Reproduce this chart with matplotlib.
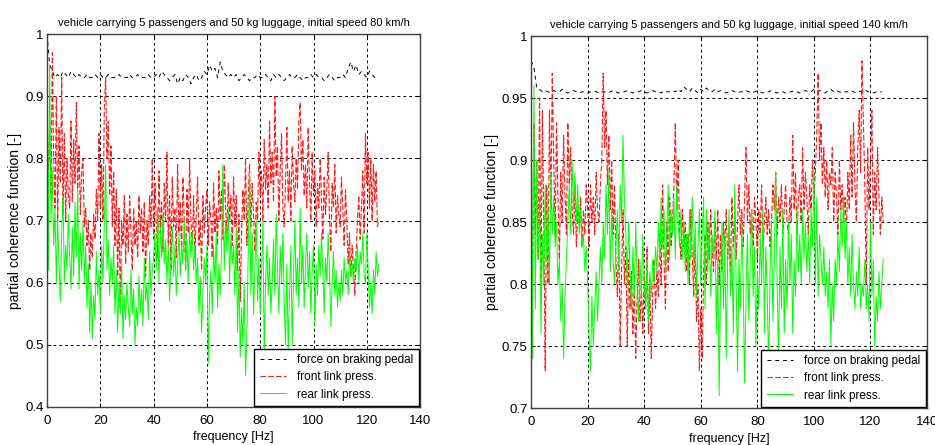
import numpy as np
import matplotlib
matplotlib.use("Agg")
import matplotlib.pyplot as plt
import matplotlib.ticker as mticker

plt.rcParams["font.family"] = ["Liberation Sans", "DejaVu Sans"]

# ------------------------------------------------------------
# 1. DADOS

# frequencias: 0.5 Hz para as pressoes, 1 Hz para a forca no pedal
freq_fine = np.arange(250) * 0.5
freq_coarse = np.arange(125) * 1.0

titles = [
    "vehicle carrying 5 passengers and 50 kg luggage, initial speed 80 km/h",
    "vehicle carrying 5 passengers and 50 kg luggage, initial speed 140 km/h",
]
legend_labels = ["force on braking pedal", "front link press.", "rear link press."]

# --- 80 km/h ---
pedal_80 = [
    1.00, 0.95, 0.94, 0.93, 0.935, 0.93, 0.94, 0.935, 0.93, 0.94,
    0.935, 0.93, 0.935, 0.93, 0.93, 0.935, 0.93, 0.93, 0.935, 0.93,
    0.935, 0.93, 0.93, 0.935, 0.93, 0.93, 0.93, 0.935, 0.93, 0.93,
    0.93, 0.935, 0.93, 0.93, 0.935, 0.93, 0.93, 0.93, 0.935, 0.93,
    0.93, 0.935, 0.93, 0.94, 0.935, 0.93, 0.925, 0.93, 0.935, 0.92,
    0.93, 0.925, 0.935, 0.93, 0.92, 0.93, 0.935, 0.925, 0.93, 0.94,
    0.935, 0.95, 0.94, 0.945, 0.93, 0.955, 0.94, 0.935, 0.93, 0.935,
    0.93, 0.935, 0.925, 0.93, 0.935, 0.93, 0.925, 0.93, 0.93, 0.935,
    0.93, 0.93, 0.935, 0.93, 0.925, 0.935, 0.93, 0.935, 0.93, 0.925,
    0.93, 0.935, 0.93, 0.93, 0.935, 0.93, 0.925, 0.93, 0.93, 0.935,
    0.93, 0.935, 0.93, 0.93, 0.925, 0.93, 0.935, 0.93, 0.925, 0.93,
    0.93, 0.935, 0.93, 0.945, 0.955, 0.94, 0.95, 0.935, 0.94, 0.935,
    0.93, 0.94, 0.935, 0.93, 0.935,
]

front_80 = [
    0.83, 0.78, 0.86, 0.74, 0.97, 0.80, 0.72, 0.90, 0.70, 0.85,
    0.76, 0.93, 0.71, 0.84, 0.70, 0.80, 0.74, 0.72, 0.86, 0.73,
    0.83, 0.76, 0.89, 0.75, 0.82, 0.71, 0.78, 0.80, 0.69, 0.72,
    0.66, 0.70, 0.62, 0.68, 0.64, 0.71, 0.67, 0.75, 0.70, 0.84,
    0.72, 0.79, 0.70, 0.88, 0.93, 0.80, 0.86, 0.74, 0.82, 0.69,
    0.78, 0.66, 0.75, 0.61, 0.72, 0.56, 0.70, 0.66, 0.74, 0.63,
    0.71, 0.65, 0.74, 0.68, 0.62, 0.72, 0.66, 0.70, 0.64, 0.74,
    0.68, 0.72, 0.65, 0.73, 0.61, 0.70, 0.66, 0.74, 0.69, 0.80,
    0.67, 0.76, 0.70, 0.64, 0.78, 0.68, 0.73, 0.65, 0.76, 0.70,
    0.81, 0.66, 0.74, 0.62, 0.77, 0.69, 0.72, 0.64, 0.79, 0.68,
    0.73, 0.65, 0.77, 0.70, 0.62, 0.75, 0.68, 0.80, 0.70, 0.66,
    0.74, 0.64, 0.71, 0.77, 0.66, 0.70, 0.62, 0.74, 0.68, 0.72,
    0.75, 0.66, 0.73, 0.70, 0.64, 0.76, 0.68, 0.72, 0.66, 0.78,
    0.70, 0.75, 0.67, 0.79, 0.72, 0.68, 0.76, 0.70, 0.74, 0.66,
    0.77, 0.69, 0.74, 0.62, 0.71, 0.57, 0.68, 0.75, 0.70, 0.80,
    0.66, 0.74, 0.79, 0.69, 0.76, 0.71, 0.65, 0.73, 0.70, 0.81,
    0.74, 0.78, 0.70, 0.83, 0.75, 0.79, 0.72, 0.86, 0.76, 0.81,
    0.73, 0.90, 0.77, 0.82, 0.70, 0.78, 0.84, 0.72, 0.69, 0.76,
    0.85, 0.73, 0.78, 0.70, 0.82, 0.76, 0.73, 0.80, 0.75, 0.86,
    0.89, 0.78, 0.83, 0.74, 0.79, 0.72, 0.85, 0.76, 0.70, 0.81,
    0.74, 0.78, 0.69, 0.76, 0.72, 0.80, 0.73, 0.67, 0.77, 0.71,
    0.75, 0.81, 0.70, 0.65, 0.76, 0.72, 0.79, 0.68, 0.74, 0.71,
    0.69, 0.77, 0.72, 0.66, 0.75, 0.70, 0.63, 0.68, 0.61, 0.66,
    0.62, 0.58, 0.65, 0.70, 0.74, 0.67, 0.72, 0.78, 0.68, 0.84,
    0.76, 0.81, 0.72, 0.80, 0.70, 0.79, 0.73, 0.78, 0.69, 0.70,
]

rear_80 = [
    1.00, 0.62, 0.95, 0.70, 0.78, 0.66, 0.72, 0.60, 0.70, 0.63,
    0.57, 0.68, 0.74, 0.60, 0.66, 0.62, 0.71, 0.64, 0.59, 0.69,
    0.61, 0.73, 0.64, 0.75, 0.59, 0.68, 0.62, 0.70, 0.60, 0.66,
    0.56, 0.63, 0.52, 0.60, 0.51, 0.58, 0.54, 0.65, 0.58, 0.62,
    0.55, 0.66, 0.60, 0.70, 0.79, 0.62, 0.67, 0.58, 0.64, 0.60,
    0.66, 0.55, 0.62, 0.52, 0.60, 0.55, 0.63, 0.51, 0.58, 0.54,
    0.60, 0.56, 0.53, 0.62, 0.55, 0.59, 0.50, 0.56, 0.53, 0.61,
    0.55, 0.59, 0.53, 0.64, 0.57, 0.60, 0.54, 0.65, 0.58, 0.62,
    0.64, 0.68, 0.62, 0.72, 0.60, 0.69, 0.64, 0.71, 0.63, 0.67,
    0.60, 0.66, 0.57, 0.64, 0.69, 0.61, 0.66, 0.58, 0.63, 0.68,
    0.61, 0.66, 0.63, 0.70, 0.62, 0.67, 0.60, 0.69, 0.64, 0.68,
    0.62, 0.66, 0.60, 0.64, 0.55, 0.61, 0.52, 0.58, 0.64, 0.60,
    0.66, 0.47, 0.58, 0.62, 0.55, 0.66, 0.60, 0.68, 0.56, 0.63,
    0.58, 0.66, 0.79, 0.62, 0.70, 0.65, 0.72, 0.60, 0.68, 0.63,
    0.66, 0.58, 0.69, 0.52, 0.62, 0.48, 0.56, 0.50, 0.60, 0.45,
    0.52, 0.65, 0.78, 0.58, 0.68, 0.55, 0.62, 0.70, 0.57, 0.64,
    0.55, 0.62, 0.70, 0.48, 0.60, 0.66, 0.58, 0.64, 0.55, 0.60,
    0.67, 0.58, 0.71, 0.62, 0.55, 0.66, 0.60, 0.68, 0.57, 0.50,
    0.63, 0.49, 0.58, 0.66, 0.50, 0.61, 0.70, 0.58, 0.64, 0.56,
    0.72, 0.60, 0.66, 0.56, 0.63, 0.68, 0.59, 0.65, 0.55, 0.62,
    0.66, 0.53, 0.63, 0.58, 0.66, 0.61, 0.68, 0.62, 0.55, 0.64,
    0.60, 0.68, 0.62, 0.53, 0.60, 0.65, 0.58, 0.62, 0.56, 0.60,
    0.57, 0.62, 0.58, 0.64, 0.60, 0.62, 0.58, 0.65, 0.61, 0.63,
    0.60, 0.64, 0.62, 0.66, 0.60, 0.65, 0.63, 0.68, 0.61, 0.60,
    0.68, 0.62, 0.56, 0.60, 0.55, 0.62, 0.58, 0.65, 0.61, 0.63,
]

# --- 140 km/h ---
pedal_140 = [
    0.98, 0.975, 0.958, 0.957, 0.955, 0.956, 0.955, 0.954, 0.956, 0.955,
    0.955, 0.957, 0.955, 0.954, 0.955, 0.956, 0.955, 0.954, 0.955, 0.955,
    0.954, 0.955, 0.956, 0.955, 0.954, 0.955, 0.955, 0.954, 0.955, 0.956,
    0.955, 0.954, 0.955, 0.955, 0.956, 0.955, 0.954, 0.955, 0.955, 0.956,
    0.955, 0.954, 0.955, 0.956, 0.955, 0.955, 0.954, 0.956, 0.955, 0.955,
    0.956, 0.955, 0.957, 0.955, 0.959, 0.957, 0.955, 0.958, 0.956, 0.954,
    0.957, 0.955, 0.958, 0.956, 0.955, 0.957, 0.955, 0.956, 0.955, 0.954,
    0.955, 0.956, 0.955, 0.954, 0.955, 0.955, 0.956, 0.955, 0.954, 0.955,
    0.956, 0.955, 0.954, 0.955, 0.955, 0.956, 0.955, 0.954, 0.955, 0.955,
    0.954, 0.955, 0.955, 0.956, 0.955, 0.954, 0.955, 0.956, 0.955, 0.955,
    0.957, 0.955, 0.956, 0.955, 0.954, 0.956, 0.957, 0.955, 0.956, 0.955,
    0.954, 0.955, 0.955, 0.956, 0.955, 0.954, 0.955, 0.956, 0.957, 0.955,
    0.955, 0.954, 0.955, 0.955, 0.955,
]

front_140 = [
    0.80, 0.79, 0.93, 0.84, 0.90, 0.82, 0.95, 0.80, 0.94, 0.85,
    0.73, 0.88, 0.80, 0.94, 0.86, 0.97, 0.90, 0.84, 0.93, 0.87,
    0.82, 0.89, 0.85, 0.92, 0.87, 0.84, 0.93, 0.88, 0.91, 0.86,
    0.84, 0.88, 0.83, 0.86, 0.85, 0.87, 0.83, 0.86, 0.84, 0.88,
    0.86, 0.83, 0.88, 0.85, 0.87, 0.84, 0.89, 0.86, 0.85, 0.88,
    0.90, 0.97, 0.91, 0.94, 0.88, 0.92, 0.86, 0.90, 0.84, 0.88,
    0.82, 0.79, 0.84, 0.75, 0.81, 0.86, 0.80, 0.83, 0.75, 0.82,
    0.78, 0.81, 0.76, 0.80, 0.74, 0.79, 0.82, 0.77, 0.80, 0.76,
    0.81, 0.78, 0.83, 0.76, 0.80, 0.74, 0.79, 0.82, 0.78, 0.81,
    0.79, 0.84, 0.80, 0.88, 0.82, 0.78, 0.85, 0.81, 0.87, 0.83,
    0.85, 0.88, 0.93, 0.86, 0.90, 0.84, 0.82, 0.86, 0.83, 0.85,
    0.81, 0.84, 0.80, 0.86, 0.82, 0.79, 0.83, 0.77, 0.80, 0.73,
    0.78, 0.74, 0.81, 0.84, 0.80, 0.85, 0.82, 0.86, 0.83, 0.81,
    0.85, 0.82, 0.86, 0.80, 0.84, 0.81, 0.85, 0.83, 0.86, 0.82,
    0.84, 0.81, 0.87, 0.83, 0.86, 0.82, 0.85, 0.88, 0.84, 0.86,
    0.83, 0.87, 0.91, 0.85, 0.88, 0.84, 0.86, 0.83, 0.87, 0.85,
    0.82, 0.86, 0.84, 0.88, 0.83, 0.85, 0.87, 0.84, 0.86, 0.83,
    0.85, 0.88, 0.86, 0.89, 0.84, 0.87, 0.85, 0.88, 0.84, 0.86,
    0.88, 0.85, 0.84, 0.87, 0.85, 0.92, 0.86, 0.89, 0.84, 0.87,
    0.88, 0.85, 0.91, 0.86, 0.89, 0.87, 0.84, 0.88, 0.86, 0.90,
    0.87, 0.89, 0.92, 0.97, 0.90, 0.93, 0.88, 0.91, 0.87, 0.90,
    0.86, 0.89, 0.88, 0.91, 0.85, 0.89, 0.87, 0.84, 0.90, 0.86,
    0.88, 0.85, 0.87, 0.84, 0.89, 0.86, 0.92, 0.87, 0.93, 0.88,
    0.85, 0.91, 0.94, 0.89, 0.98, 0.93, 0.88, 0.80, 0.91, 0.86,
    0.90, 0.94, 0.84, 0.89, 0.86, 0.91, 0.87, 0.84, 0.87, 0.85,
]

rear_140 = [
    1.00, 0.74, 0.96, 0.78, 0.90, 0.82, 0.87, 0.76, 0.84, 0.80,
    0.88, 0.82, 0.86, 0.80, 0.89, 0.84, 0.87, 0.83, 0.85, 0.80,
    0.82, 0.77, 0.80, 0.74, 0.79, 0.82, 0.85, 0.88, 0.84, 0.90,
    0.86, 0.89, 0.85, 0.88, 0.84, 0.86, 0.83, 0.84, 0.81, 0.83,
    0.80, 0.76, 0.73, 0.79, 0.75, 0.78, 0.81, 0.77, 0.80, 0.83,
    0.80, 0.85, 0.82, 0.88, 0.84, 0.89, 0.81, 0.86, 0.82, 0.80,
    0.83, 0.86, 0.81, 0.88, 0.85, 0.92, 0.87, 0.84, 0.80, 0.85,
    0.81, 0.78, 0.83, 0.79, 0.85, 0.80, 0.77, 0.82, 0.79, 0.84,
    0.80, 0.78, 0.82, 0.77, 0.81, 0.79, 0.82, 0.80, 0.83, 0.81,
    0.85, 0.82, 0.87, 0.83, 0.86, 0.81, 0.84, 0.88, 0.82, 0.86,
    0.84, 0.87, 0.82, 0.88, 0.85, 0.83, 0.86, 0.82, 0.85, 0.81,
    0.84, 0.80, 0.86, 0.82, 0.87, 0.81, 0.85, 0.79, 0.83, 0.86,
    0.80, 0.84, 0.87, 0.78, 0.86, 0.81, 0.85, 0.79, 0.84, 0.82,
    0.86, 0.76, 0.82, 0.71, 0.80, 0.85, 0.78, 0.84, 0.74, 0.82,
    0.86, 0.79, 0.83, 0.76, 0.88, 0.80, 0.73, 0.82, 0.78, 0.85,
    0.80, 0.72, 0.79, 0.84, 0.77, 0.82, 0.86, 0.79, 0.83, 0.75,
    0.81, 0.78, 0.84, 0.80, 0.86, 0.76, 0.83, 0.79, 0.73, 0.81,
    0.85, 0.77, 0.82, 0.89, 0.80, 0.74, 0.83, 0.78, 0.86, 0.76,
    0.82, 0.78, 0.85, 0.80, 0.84, 0.76, 0.82, 0.79, 0.86, 0.81,
    0.84, 0.80, 0.86, 0.82, 0.85, 0.81, 0.84, 0.80, 0.86, 0.83,
    0.89, 0.80, 0.87, 0.79, 0.84, 0.82, 0.80, 0.83, 0.79, 0.81,
    0.78, 0.82, 0.75, 0.80, 0.77, 0.82, 0.80, 0.84, 0.81, 0.86,
    0.83, 0.87, 0.82, 0.85, 0.80, 0.83, 0.79, 0.84, 0.80, 0.78,
    0.81, 0.79, 0.83, 0.78, 0.80, 0.79, 0.82, 0.78, 0.80, 0.77,
    0.85, 0.79, 0.82, 0.75, 0.79, 0.77, 0.81, 0.78, 0.80, 0.82,
]

y_ranges = [(0.4, 1.0, 0.1), (0.7, 1.0, 0.05)]

# ------------------------------------------------------------
# 2. FIGURA

fig = plt.figure(figsize=(9.35, 4.45), dpi=100)
ax_left = fig.add_axes([0.0503, 0.0854, 0.399, 0.838])
ax_right = fig.add_axes([0.568, 0.0831, 0.4235, 0.836])

paineis = [
    (ax_left, pedal_80, front_80, rear_80),
    (ax_right, pedal_140, front_140, rear_140),
]

for i, (ax, pedal, front, rear) in enumerate(paineis):
    l1, = ax.plot(freq_coarse, pedal, color="black", linewidth=0.7,
                  linestyle=(0, (4, 4)))
    l2, = ax.plot(freq_fine, front, color="#ff1a1a", linewidth=0.8,
                  linestyle=(0, (5, 2)))
    l3, = ax.plot(freq_fine, rear, color="#00ff00", linewidth=0.7)

    y0, y1, step = y_ranges[i]
    ax.set_xlim(0, 140)
    ax.set_ylim(y0, y1)
    ax.set_xticks(np.arange(0, 141, 20))
    ax.set_yticks(np.arange(y0, y1 + step / 2, step))
    ax.yaxis.set_major_formatter(mticker.FuncFormatter(lambda v, _: f"{v:g}"))

    ax.grid(True, color="black", linestyle=(0, (3, 3)), linewidth=0.7)
    ax.tick_params(direction="in", top=True, right=True, length=3,
                   labelsize=9.5)
    ax.tick_params(axis="x", pad=6)
    ax.tick_params(axis="y", pad=2.5)
    for sp in ax.spines.values():
        sp.set_color("#404040")
        sp.set_linewidth(1.0)

    ax.set_title(titles[i], fontsize=8, pad=6)
    ax.set_xlabel("frequency [Hz]", fontsize=9, labelpad=3)
    ax.set_ylabel("partial coherence function [-]", fontsize=10, labelpad=2)

    leg = ax.legend([l1, l2, l3], legend_labels, loc="lower right",
                    fontsize=8.5, handlelength=2.2, borderaxespad=0.1,
                    fancybox=False, framealpha=1, labelspacing=0.45,
                    handletextpad=1.0, borderpad=0.45)
    leg.get_frame().set_edgecolor("black")
    leg.get_frame().set_linewidth(1.0)

plt.savefig("out.png", dpi=100)
